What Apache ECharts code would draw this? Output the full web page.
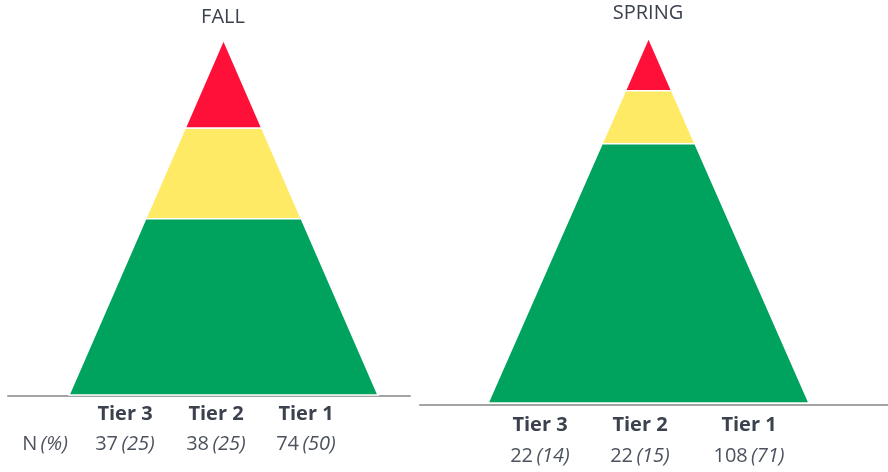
<!DOCTYPE html>
<html>
<head>
<meta charset="utf-8">
<script src="https://cdn.jsdelivr.net/npm/echarts@6/dist/echarts.min.js"></script>
<style>
html,body{margin:0;padding:0;background:#fff;}
#c{width:888px;height:472px;}
</style>
</head>
<body>
<div id="c"></div>
<script>
// ---- data ----
const seasons = ['FALL', 'SPRING'];
const tiers = ['Tier 3', 'Tier 2', 'Tier 1'];
const fallCounts = [37, 38, 74];
const fallPct = [25, 25, 50];
const springCounts = [22, 22, 108];
const springPct = [14, 15, 71];
const rowLabel = ['N', '(%)'];
const tierColors = ['#FF1038', '#FFEA66', '#00A35E'];

// ---- layout ----
const layout = [
  { gridLeft: 8, gridRight: 478, top: 40, bottom: 77, offset: 1, xmin: -1.395, xmax: 1.207,
    titleX: 223, titleY: 17, labelX: [125, 216, 306], tierY: 414, valY: 444, rowX: 45 },
  { gridLeft: 420, gridRight: 0, top: 38, bottom: 69, offset: 2, xmin: -1.424, xmax: 1.492,
    titleX: 648, titleY: 13, labelX: [540, 640, 749], tierY: 425, valY: 456, rowX: null }
];
const countsList = [fallCounts, springCounts];
const pctList = [fallPct, springPct];

function tierData(counts) {
  const total = counts.reduce((a, b) => a + b, 0);
  let top = 100;
  return counts.map((c, i) => {
    const h = c / total * 100;
    const item = [top - h, top, i];
    top -= h;
    return item;
  });
}

const grid = [], xAxis = [], yAxis = [], series = [], graphic = [];
const textColor = '#3b414d';
const valColor = '#4c525e';
const FONT = '"Open Sans", sans-serif';

layout.forEach((L, s) => {
  grid.push({ left: L.gridLeft, right: L.gridRight, top: L.top, bottom: L.bottom });
  xAxis.push({
    type: 'value', gridIndex: s, min: L.xmin, max: L.xmax, offset: L.offset,
    axisLine: { show: true, onZero: false, lineStyle: { color: '#A3A3A3', width: 2 } },
    axisTick: { show: false }, axisLabel: { show: false }, splitLine: { show: false }
  });
  yAxis.push({ type: 'value', gridIndex: s, min: 0, max: 100, show: false });
  series.push({
    type: 'custom', xAxisIndex: s, yAxisIndex: s,
    data: tierData(countsList[s]),
    renderItem: function (params, api) {
      const lo = api.value(0), hi = api.value(1), idx = api.value(2);
      const wlo = 1 - lo / 100, whi = 1 - hi / 100;
      const pts = [
        api.coord([-wlo, lo]), api.coord([wlo, lo]),
        api.coord([whi, hi]), api.coord([-whi, hi])
      ];
      return {
        type: 'polygon',
        shape: { points: pts },
        style: { fill: tierColors[idx], stroke: '#fff', lineWidth: 1.5 }
      };
    },
    silent: true, animation: false
  });
  graphic.push({
    type: 'text', x: L.titleX, y: L.titleY,
    style: { text: seasons[s], font: '20px ' + FONT, fill: textColor, align: 'center', verticalAlign: 'middle' }
  });
  tiers.forEach((t, i) => {
    graphic.push({
      type: 'text', x: L.labelX[i], y: L.tierY,
      style: { text: t, font: 'bold 20px ' + FONT, fill: textColor, align: 'center', verticalAlign: 'middle' }
    });
    graphic.push({
      type: 'text', x: L.labelX[i], y: L.valY,
      style: {
        text: '{n|' + countsList[s][i] + '} {p|(' + pctList[s][i] + ')}',
        align: 'center', verticalAlign: 'middle',
        rich: {
          n: { font: '20px ' + FONT, fill: valColor },
          p: { font: 'italic 20px ' + FONT, fill: valColor }
        }
      }
    });
  });
  if (L.rowX !== null) {
    graphic.push({
      type: 'text', x: L.rowX, y: L.valY,
      style: {
        text: '{n|' + rowLabel[0] + '} {p|' + rowLabel[1] + '}',
        align: 'center', verticalAlign: 'middle',
        rich: {
          n: { font: '20px ' + FONT, fill: valColor },
          p: { font: 'italic 20px ' + FONT, fill: valColor }
        }
      }
    });
  }
});

const chart = echarts.init(document.getElementById('c'), null, { renderer: 'canvas' });
chart.setOption({
  animation: false,
  backgroundColor: '#fff',
  grid, xAxis, yAxis, series, graphic
});
</script>
</body>
</html>
